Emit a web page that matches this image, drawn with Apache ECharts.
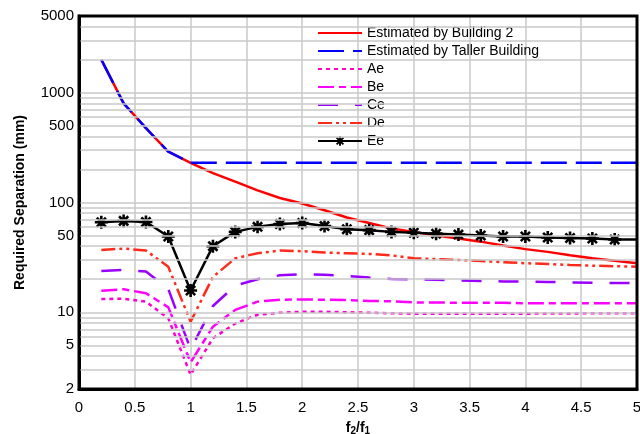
<!DOCTYPE html>
<html lang="en">
<head>
    <meta charset="UTF-8">
    <title>Required Separation</title>
    <script src="https://cdn.jsdelivr.net/npm/echarts@6/dist/echarts.min.js"></script>
    <style>
        * { margin: 0; padding: 0 }
        html, body { width: 100%; height: 100%; background: #fff }
        #main { width: 640px; height: 434px }
    </style>
</head>
<body>
    <div id="main"></div>
    <script type="text/javascript">
        // f2/f1 ratios
        var ratios = [0.2, 0.4, 0.6, 0.8, 1.0, 1.2, 1.4, 1.6, 1.8, 2.0, 2.2, 2.4, 2.6, 2.8, 3.0,
            3.2, 3.4, 3.6, 3.8, 4.0, 4.2, 4.4, 4.6, 4.8, 5.0];

        var building2 = [2000, 800, 476, 290, 230, 185, 155, 129, 110, 98, 85, 73, 65, 58, 54,
            50, 47, 44, 40.5, 37.6, 35.5, 33, 31, 29.5, 28];
        var taller = [2000, 800, 476, 290, 230, 230, 230, 230, 230, 230, 230, 230, 230, 230, 230,
            230, 230, 230, 230, 230, 230, 230, 230, 230, 230];
        var ae = [13.2, 13.3, 12.5, 8.8, 2.7, 5.8, 7.9, 9.5, 9.9, 10.1, 10.1, 10, 9.9, 9.8, 9.7,
            9.7, 9.7, 9.7, 9.7, 9.7, 9.75, 9.75, 9.8, 9.8, 9.8];
        var be = [15.7, 16.2, 14.9, 11.1, 3.5, 7.4, 10.5, 12.5, 13, 13.1, 13, 12.9, 12.7, 12.6, 12.3,
            12.3, 12.2, 12.2, 12.2, 12.1, 12.1, 12.1, 12.1, 12.1, 12.1];
        var ce = [23.8, 24.3, 23.5, 16.3, 4.6, 11.4, 17.5, 20, 21.7, 22.2, 22, 21.4, 20.7, 20.1, 20,
            19.8, 19.5, 19.3, 19.1, 19, 18.9, 18.7, 18.6, 18.5, 18.4];
        var de = [37, 38, 36.5, 26, 8.2, 21, 31, 34.5, 36.5, 36, 35, 34.5, 34, 33, 31,
            30.5, 30, 29.3, 28.6, 28, 27.5, 27, 26.6, 26.3, 26];
        var ee = [66, 68, 66.5, 49, 15.8, 40, 54, 60, 63.6, 65, 61, 57, 56, 54, 53,
            52, 51, 50, 49, 49, 48, 47.5, 47, 46, 46];

        // log grid lines and the labels excel printed on the y axis
        var yGrid = [2, 3, 4, 5, 6, 7, 8, 9, 10, 20, 30, 40, 50, 60, 70, 80, 90,
            100, 200, 300, 400, 500, 600, 700, 800, 900, 1000, 2000, 3000, 4000, 5000];
        var yLabels = [2, 5, 10, 50, 100, 500, 1000, 5000];

        function pairs(arr) {
            return ratios.map(function (x, i) { return [x, arr[i]] });
        }

        // asterisk marker: 4 crossed bars
        function asteriskPath() {
            var w = 0.2, s = '';
            for (var k = 0; k < 4; k++) {
                var a = k * Math.PI / 4;
                var dx = Math.cos(a), dy = Math.sin(a);
                var nx = -dy * w, ny = dx * w;
                var c = [[dx + nx, dy + ny], [dx - nx, dy - ny], [-dx - nx, -dy - ny], [-dx + nx, -dy + ny]];
                s += 'M' + c.map(function (p) { return p[0].toFixed(3) + ' ' + p[1].toFixed(3) }).join(' L') + ' Z ';
            }
            return 'path://' + s;
        }

        var font = 'Liberation Sans';
        var myChart = echarts.init(document.getElementById('main'));

        function lineSeries(name, arr, color, type) {
            return {
                name: name,
                type: 'line',
                data: pairs(arr),
                symbol: 'none',
                z: 3,
                lineStyle: { color: color, width: 2.5, type: type },
                itemStyle: { color: color },
                animation: false
            };
        }

        var eeData = pairs(ee);
        eeData[eeData.length - 1] = { value: eeData[eeData.length - 1], symbol: 'none' };

        var legendNames = ['Estimated by Building 2', 'Estimated by Taller Building', 'Ae', 'Be', 'Ce', 'De', 'Ee'];

        var option = {
            backgroundColor: '#fff',
            textStyle: { fontFamily: font },
            grid: {
                left: 79, right: 3, top: 16, bottom: 45,
                containLabel: false,
                outerBoundsMode: 'none',
                z: 10,
                show: true, borderColor: '#000', borderWidth: 3
            },
            legend: {
                orient: 'vertical',
                left: 312,
                top: 21,
                itemWidth: 44,
                itemHeight: 12,
                itemGap: 4,
                textStyle: { fontFamily: font, fontSize: 14, color: '#000' },
                data: legendNames.map(function (n) {
                    return n === 'Ee' ? { name: n } : { name: n, itemStyle: { opacity: 0 } };
                })
            },
            xAxis: {
                type: 'value',
                min: 0,
                max: 5,
                interval: 0.5,
                name: '{b|f}{s|2}{b|/f}{s|1}',
                nameLocation: 'middle',
                nameGap: 31,
                nameTextStyle: {
                    rich: {
                        b: { fontFamily: font, fontSize: 14, fontWeight: 'bold', color: '#000' },
                        s: { fontFamily: font, fontSize: 10, fontWeight: 'bold', color: '#000', verticalAlign: 'bottom', padding: [6, 0, 0, 0] }
                    }
                },
                axisLine: { lineStyle: { color: '#000', width: 3 } },
                axisTick: { show: false },
                axisLabel: { fontFamily: font, fontSize: 15, color: '#000', margin: 11 },
                splitLine: { lineStyle: { color: '#c8c8c8', width: 1.5 } }
            },
            yAxis: {
                type: 'log',
                logBase: 10,
                min: 2,
                max: 5000,
                name: 'Required Separation (mm)',
                nameLocation: 'middle',
                nameGap: 52,
                nameTextStyle: { fontFamily: font, fontSize: 14, fontWeight: 'bold', color: '#000' },
                axisLine: { lineStyle: { color: '#000', width: 3 } },
                axisTick: { show: false },
                axisLabel: { show: false },
                splitLine: { show: false }
            },
            series: [
                {
                    name: 'grid',
                    type: 'line',
                    data: [],
                    z: 1,
                    markLine: {
                        silent: true,
                        symbol: ['none', 'none'],
                        animation: false,
                        lineStyle: { color: '#c8c8c8', width: 1.5, type: 'solid' },
                        data: yGrid.map(function (v) {
                            return {
                                yAxis: v,
                                label: {
                                    show: yLabels.indexOf(v) >= 0,
                                    position: 'start',
                                    distance: 5,
                                    formatter: String(v),
                                    fontFamily: font,
                                    fontSize: 15,
                                    color: '#000'
                                }
                            };
                        })
                    }
                },
                lineSeries('Estimated by Building 2', building2, '#ff0000', 'solid'),
                lineSeries('Estimated by Taller Building', taller, '#0000ff', [26, 9]),
                lineSeries('Ae', ae, '#ff00cc', [4, 4]),
                lineSeries('Be', be, '#ff00ff', [16, 5, 7, 5]),
                lineSeries('Ce', ce, '#9900ff', [20, 17]),
                lineSeries('De', de, '#ff2a1a', [14, 4, 3, 4, 3, 4]),
                {
                    name: 'Ee',
                    type: 'line',
                    data: eeData,
                    symbol: asteriskPath(),
                    symbolSize: 13,
                    z: 4,
                    lineStyle: { color: '#000', width: 2.5 },
                    itemStyle: { color: '#000' },
                    animation: false
                }
            ]
        };
        myChart.setOption(option);
    </script>
</body>
</html>
